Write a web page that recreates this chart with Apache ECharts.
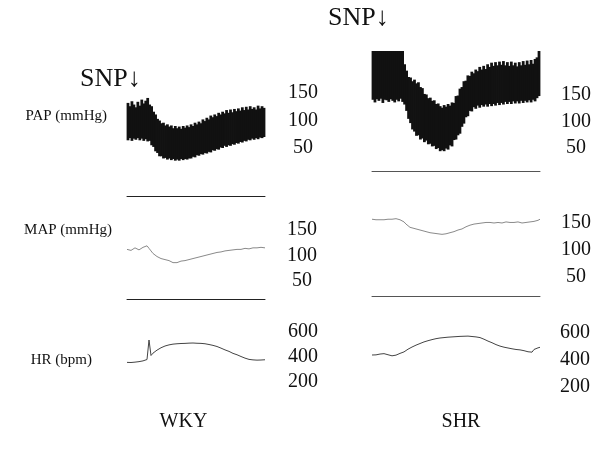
<!DOCTYPE html>
<html><head><meta charset="utf-8">
<script src="https://cdn.jsdelivr.net/npm/echarts@6/dist/echarts.min.js"></script>
<style>html,body{margin:0;padding:0;background:#fff}#c{width:600px;height:450px}</style>
</head><body><div id="c"></div>
<script>
// ---- tick labels ----
const papTicks = [50, 100, 150];
const mapTicks = [50, 100, 150];
const hrTicks = [200, 400, 600];

// ---- texts ----
const groupNames = ['WKY', 'SHR'];
const rowLabels = ['PAP (mmHg)', 'MAP (mmHg)', 'HR (bpm)'];
const injectionLabel = 'SNP\u2193';

// ---- PAP envelopes (mmHg) ----
const papWkyHigh = [132,126,135,129,124,134,127,138,131,136,141,129,126,116,111,103,100,95,96,91,93,89,91,86,90,86,89,85,90,87,91,88,93,90,96,93,98,95,102,99,105,102,109,106,111,108,114,111,116,113,119,114,120,115,121,117,122,118,124,119,125,120,126,121,124,120,127,122,126,123];
const papWkyLow = [64,68,63,67,65,68,64,67,63,66,62,63,55,52,44,41,35,35,31,32,29,31,28,30,27,29,27,30,28,30,29,31,31,34,33,37,36,39,38,41,40,43,42,46,45,48,47,51,50,54,52,55,54,57,56,59,58,61,60,63,62,65,64,67,65,68,66,69,68,70];
const papShrHigh = [233,233,233,233,233,233,233,233,233,233,233,233,233,233,233,233,208,196,184,183,176,179,172,174,165,163,152,151,144,145,139,140,133,134,129,126,131,128,133,130,136,135,148,149,162,165,176,177,187,186,194,191,198,195,203,198,205,199,208,203,211,205,212,206,213,207,214,206,212,205,213,206,211,204,212,206,214,207,215,208,216,209,218,221,233];
const papShrLow = [141,136,142,139,143,135,141,140,137,142,139,136,141,138,143,137,132,120,105,97,85,81,73,74,66,68,61,64,57,58,53,54,48,50,44,46,44,49,47,55,53,65,66,74,77,90,96,108,110,120,119,127,124,130,126,131,128,132,128,133,129,133,130,135,131,135,132,137,133,137,133,138,134,138,134,139,135,139,136,140,136,141,138,144,148];

// ---- MAP (mmHg) ----
const mapWky = [112,114,110,112,115,113,111,113,116,118,119,114,109,104,101,98,95,94,91,92,89,90,87,86,84,86,86,89,88,90,89,92,91,94,93,96,95,98,97,100,99,102,101,104,103,106,104,107,106,109,107,110,108,111,109,112,110,112,111,114,112,113,112,115,113,115,114,116,114,115];
const mapShr = [157,157,156,157,156,157,156,157,157,156,157,157,158,157,156,154,152,148,145,142,141,140,139,138,137,136,135,134,133,132,132,131,131,130,130,129,129,130,131,132,133,134,135,137,138,139,141,143,145,146,147,148,149,149,150,150,151,151,150,151,151,150,151,151,152,150,151,152,150,151,152,151,150,152,151,150,152,151,150,152,152,153,153,155,157];

// ---- HR (bpm) ----
const hrWky = [357,362,356,364,359,368,363,371,369,378,380,536,412,431,437,455,462,474,475,488,486,497,494,503,499,506,500,508,502,509,504,511,505,512,506,510,505,509,502,506,497,500,491,493,482,484,470,471,459,457,444,445,434,429,420,418,405,404,392,391,380,381,372,377,369,375,370,376,372,378];
const hrShr = [437,440,438,445,444,449,447,447,439,437,431,435,436,447,449,458,460,474,480,492,496,508,510,520,522,532,534,543,543,551,551,559,558,565,563,569,566,572,569,574,571,576,573,580,575,584,576,585,577,583,574,578,571,574,566,566,554,551,540,538,528,526,514,513,503,505,495,499,489,493,483,487,478,481,475,477,469,469,461,467,458,478,465,490,494];

const serif = '"Liberation Serif", "Times New Roman", serif';
const idx = n => Array.from({length: n}, (_, i) => i);

const grids = [
  {left:127, width:138, top:93,    height:103.7},
  {left:372, width:168, top:42,    height:129.7},
  {left:127, width:138, top:230,   height:69},
  {left:372, width:168, top:212.2, height:84.5},
  {left:127, width:138, top:332,   height:50},
  {left:372, width:168, top:333,   height:54}
];
const yRanges = [[-38.5,150],[5.3,250],[14.7,150],[13.5,170],[200,600],[200,600]];
const yTicks = [papTicks, papTicks, mapTicks, mapTicks, hrTicks, hrTicks];
const npts = [70, 85, 70, 85, 70, 85];
const isBand = [true, true, false, false, false, false];
const baseColor = ['#222', '#555', '#222', '#555', null, null];
const labelMargin = [38, 36, 37, 36, 38, 35];

const xAxis = grids.map((g, i) => ({
  gridIndex: i, type: 'category', boundaryGap: isBand[i], data: idx(npts[i]),
  axisLine: {show: !!baseColor[i], onZero: false, lineStyle: {color: baseColor[i] || '#000', width: 1}},
  axisTick: {show: false}, axisLabel: {show: false}, splitLine: {show: false}
}));
const yAxis = grids.map((g, i) => ({
  gridIndex: i, type: 'value', position: 'right', min: yRanges[i][0], max: yRanges[i][1],
  axisLine: {show: false}, axisTick: {show: false}, splitLine: {show: false},
  axisLabel: {customValues: yTicks[i], align: 'center', margin: labelMargin[i],
    fontFamily: serif, fontSize: 20, color: '#111'}
}));

// pulsatile band: one vertical stroke per sample, from diastolic (low) to systolic (high)
function band(ax, low, high) {
  return {
    type: 'custom', xAxisIndex: ax, yAxisIndex: ax, silent: true,
    data: low.map((l, i) => [i, l, high[i]]),
    encode: {x: 0, y: [1, 2]},
    renderItem: function (params, api) {
      const top = api.coord([api.value(0), api.value(2)]);
      const bot = api.coord([api.value(0), api.value(1)]);
      const w = api.size([1, 0])[0];
      return {
        type: 'rect',
        shape: {x: top[0] - w / 2 - 0.4, y: top[1], width: w + 0.8, height: bot[1] - top[1]},
        style: {fill: '#111'}
      };
    }
  };
}
function trace(ax, data, color) {
  return {type: 'line', xAxisIndex: ax, yAxisIndex: ax, data: data, symbol: 'none',
    lineStyle: {color: color, width: 1}, silent: true};
}

const series = [
  band(0, papWkyLow, papWkyHigh),
  band(1, papShrLow, papShrHigh),
  trace(2, mapWky, '#8a8a8a'),
  trace(3, mapShr, '#8a8a8a'),
  trace(4, hrWky, '#444'),
  trace(5, hrShr, '#444')
];

const txt = (x, y, text, size, align, vAlign) => ({
  type: 'text', x: x, y: y, silent: true,
  style: {text: text, font: size + 'px ' + serif, fill: '#111', textAlign: align, textVerticalAlign: vAlign}
});
const graphic = [
  txt(80, 79, injectionLabel, 26, 'left', 'middle'),
  txt(328, 18, injectionLabel, 26, 'left', 'middle'),
  txt(107, 116, rowLabels[0], 15, 'right', 'middle'),
  txt(112, 230, rowLabels[1], 15, 'right', 'middle'),
  txt(92, 360, rowLabels[2], 15, 'right', 'middle'),
  txt(183.5, 422, groupNames[0], 20, 'center', 'middle'),
  txt(461, 422, groupNames[1], 20, 'center', 'middle')
];

const chart = echarts.init(document.getElementById('c'), null, {renderer: 'canvas'});
chart.setOption({
  animation: false, backgroundColor: '#fff',
  grid: grids.map(g => Object.assign({containLabel: false}, g)),
  xAxis: xAxis, yAxis: yAxis, series: series, graphic: graphic
});
</script></body></html>
